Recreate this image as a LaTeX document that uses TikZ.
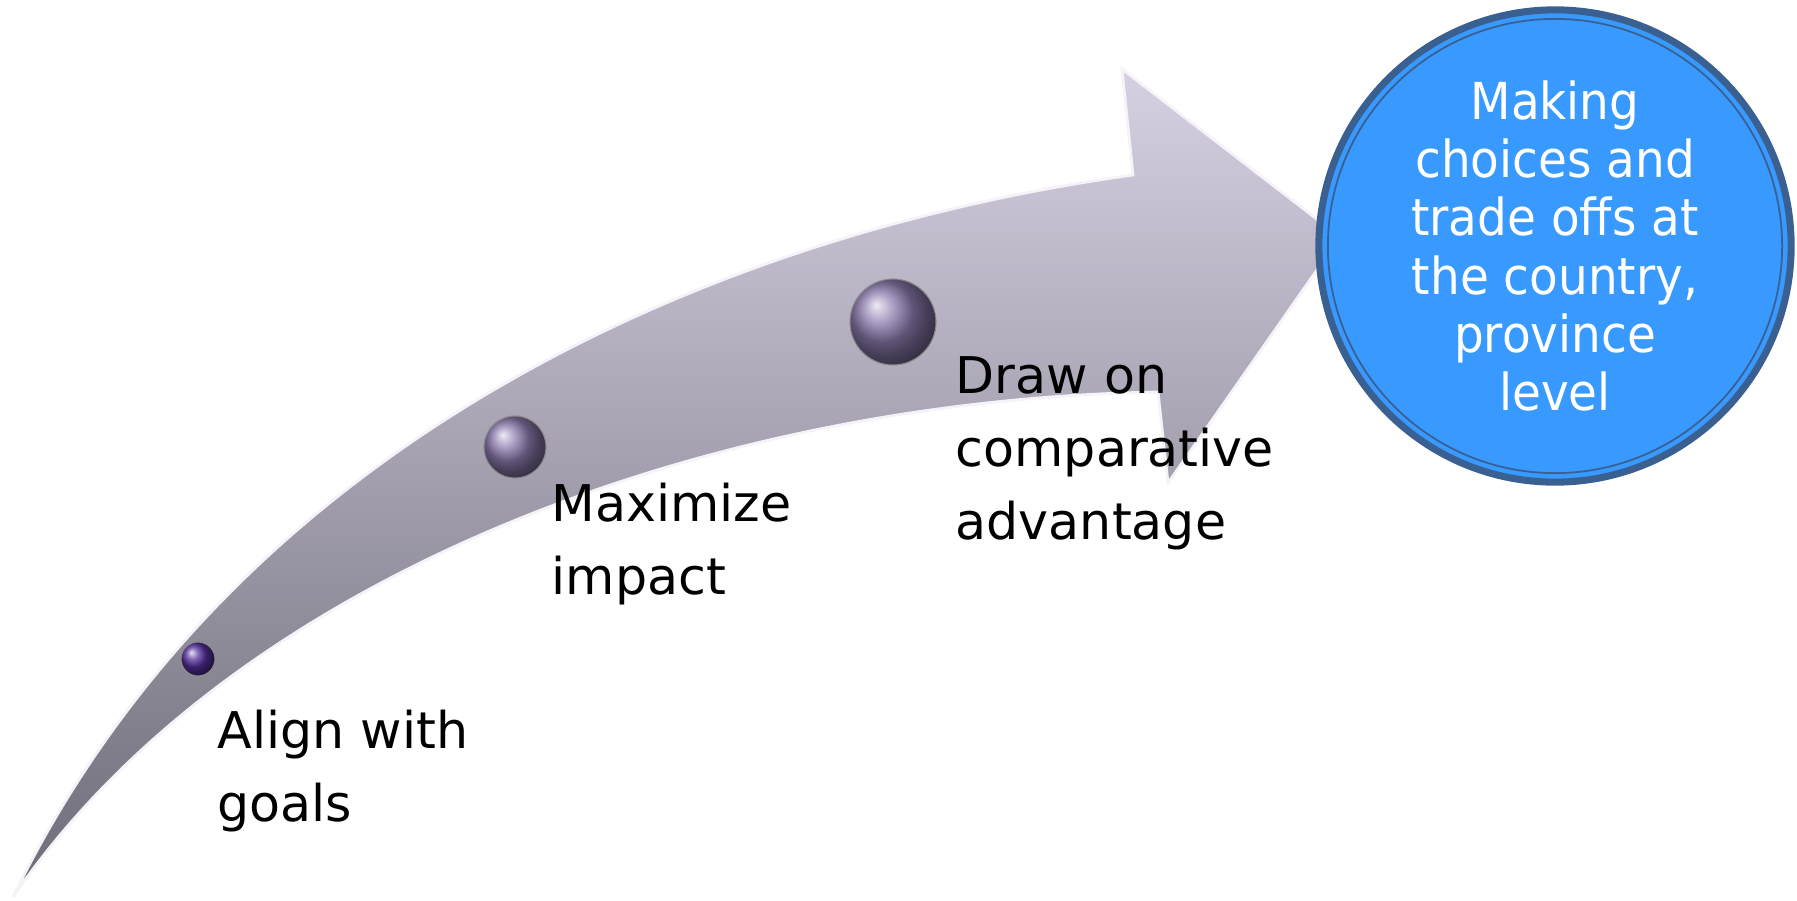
\documentclass[tikz,border=0pt]{standalone}
\usepackage{fontspec}
\setmainfont{DejaVu Sans}
\newfontfamily\goalfont{DejaVu Sans}[FakeStretch=0.92]
\usepackage{tikz}
\usetikzlibrary{shapes, shadings}
\definecolor{arrowtop}{RGB}{214,208,226}
\definecolor{arrowbot}{RGB}{110,108,120}
\definecolor{goalblue}{RGB}{56,153,255}
\definecolor{goalrim}{RGB}{58,96,146}
\definecolor{beaddark}{RGB}{82,46,152}
\definecolor{beadgrey}{RGB}{136,120,170}

\begin{document}
\begin{tikzpicture}[x=0.01cm, y=-0.01cm,
    steptext/.style={font=\fontsize{14.4}{20.8}\selectfont, align=left, anchor=north west, inner sep=0pt},
    bead/.style={circle, inner sep=0pt, draw=black!45, line width=0.3pt, ball color=#1},
    goal/.style={circle, fill=goalblue, draw=goalrim, line width=2pt, minimum size=4.72cm,
        text=white, align=center, font=\goalfont\fontsize{14.5}{16.6}\selectfont}]
    \useasboundingbox (0,0) rectangle (1797,900);

    % curved arrow
    \shade[top color=arrowtop, bottom color=arrowbot, draw=white!75!arrowtop, line width=0.8pt]
        (13,897) .. controls (230,450) and (700,235) .. (1133,175)
        -- (1122,69) -- (1340,237) -- (1168,483) -- (1158,392)
        .. controls (700,400) and (230,580) .. (13,897) -- cycle;

    % beads on the arrow
    \node[bead=beaddark, minimum size=0.34cm] (bead1) at (198,659) {};
    \node[bead=beadgrey, minimum size=0.62cm] (bead2) at (515,447) {};
    \node[bead=beadgrey, minimum size=0.86cm] (bead3) at (893,322) {};

    % step labels
    \node[steptext] (align) at (217,709) {Align with\\goals};
    \node[steptext] (impact) at (551,482) {Maximize\\impact};
    \node[steptext] (draw) at (955,356) {Draw on\\comparative\\advantage};

    % goal circle
    \node[goal] (goal) at (1555,246) {Making\\choices and\\trade offs at\\the country,\\province\\level};
    \draw[goalrim, line width=0.5pt] (goal.center) circle[radius=2.27cm];
\end{tikzpicture}
\end{document}
